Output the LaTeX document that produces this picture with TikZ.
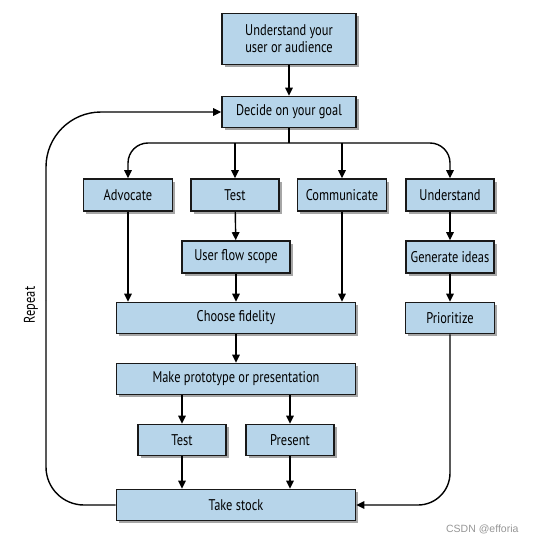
\documentclass[tikz,border=0pt]{standalone}
\usepackage{fontspec}
\setmainfont{PT Sans}[FakeStretch=0.8]
\newfontfamily\wmfont{Liberation Sans}
\usetikzlibrary{arrows.meta,shadows,calc}
\definecolor{boxblue}{RGB}{183,213,234}
\definecolor{wmgray}{RGB}{150,150,150}
\begin{document}
\begin{tikzpicture}[x=1pt,y=-1pt,
  box/.style={draw=black!90,line width=1.6pt,fill=boxblue,inner sep=2pt,
    minimum height=31pt,align=center,font=\fontsize{15.5}{17}\selectfont,
    drop shadow={shadow xshift=2.5pt,shadow yshift=-2.5pt,opacity=0.35,fill=black}},
  conn/.style={line width=1.4pt,draw=black},
  arr/.style={conn,-{Triangle[length=8pt,width=7.5pt]}}]
\useasboundingbox (0,0) rectangle (538,540);
\node[box,minimum width=134pt,minimum height=51pt] (u) at (289,39) {Understand your\\user or audience};
\node[box,minimum width=134pt] (d) at (289,112) {Decide on your goal};
\node[box,minimum width=89pt,minimum height=32pt] (adv) at (128,195) {Advocate};
\node[box,minimum width=88pt,minimum height=32pt] (test) at (235,195) {Test};
\node[box,minimum width=89pt,minimum height=32pt] (comm) at (342,195) {Communicate};
\node[box,minimum width=88pt,minimum height=32pt] (und) at (450,195) {Understand};
\node[box,minimum width=108pt,minimum height=32pt] (ufs) at (236,257) {User flow scope};
\node[box,minimum width=88pt,minimum height=32pt] (gen) at (450,257) {Generate ideas};
\node[box,minimum width=239pt] (cf) at (236,318) {Choose fidelity};
\node[box,minimum width=89pt] (pri) at (450,318) {Prioritize};
\node[box,minimum width=239pt] (mp) at (236,379) {Make prototype or presentation};
\node[box,minimum width=88pt] (t2) at (182,440) {Test};
\node[box,minimum width=88pt] (pres) at (290,440) {Present};
\node[box,minimum width=239pt] (ts) at (236,505) {Take stock};
\coordinate (br) at (289,143);
\coordinate (lx) at (46,300);
\draw[arr] (u) -- (d);
\draw[conn] (d.south) -- (br);
\draw[arr,rounded corners=20pt] (br) -| (adv.north);
\draw[arr,rounded corners=20pt] (br) -| (und.north);
\draw[arr] (br -| test.north) -- (test.north);
\draw[arr] (br -| comm.north) -- (comm.north);
\draw[arr] (test) -- (ufs);
\draw[arr] (und) -- (gen);
\draw[arr] (gen) -- (pri);
\draw[arr] (adv.south) -- (adv.south |- cf.north);
\draw[arr] (ufs) -- (ufs.south |- cf.north);
\draw[arr] (comm.south) -- (comm.south |- cf.north);
\draw[arr] (cf) -- (mp);
\draw[arr] (mp.south -| t2.north) -- (t2.north);
\draw[arr] (mp.south -| pres.north) -- (pres.north);
\draw[arr] (t2.south) -- (t2.south |- ts.north);
\draw[arr] (pres.south) -- (pres.south |- ts.north);
\draw[conn,rounded corners=38pt] (ts.west) -| (lx);
\draw[arr,rounded corners=55pt] (lx) |- (d.west);
\draw[arr,rounded corners=32pt] (pri.south) |- (ts.east);
\node[rotate=90,font=\fontsize{15.5}{17}\selectfont] (rep) at (31,305) {Repeat};
\node[font=\wmfont\fontsize{10.5}{12}\selectfont,text=wmgray,anchor=east] (wm) at (522,529) {CSDN @efforia};
\end{tikzpicture}
\end{document}
